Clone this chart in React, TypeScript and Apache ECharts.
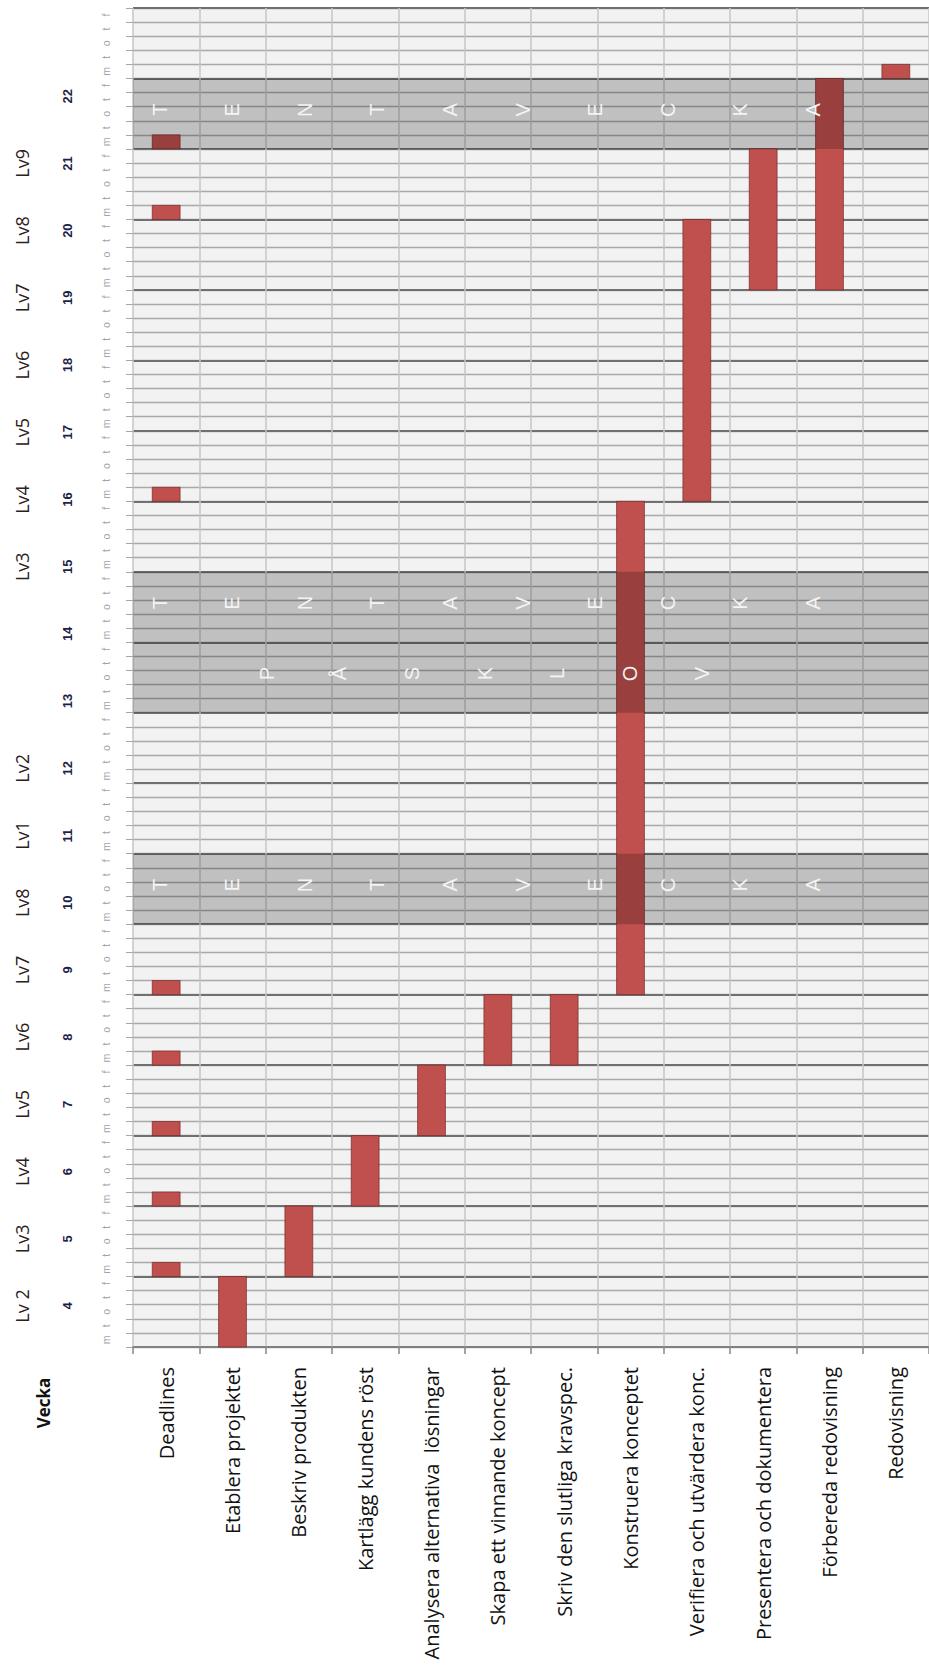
import React, { useEffect, useRef } from "react";
import * as echarts from "echarts";

// ---- data ----
const categories = [
  "Deadlines",
  "Etablera projektet",
  "Beskriv produkten",
  "Kartlägg kundens röst",
  "Analysera alternativa  lösningar",
  "Skapa ett vinnande koncept",
  "Skriv den slutliga kravspec.",
  "Konstruera konceptet",
  "Verifiera och utvärdera konc.",
  "Presentera och dokumentera",
  "Förbereda redovisning",
  "Redovisning",
];
// task spans in working days counted from Monday of week 4
const taskCategory = [1, 2, 3, 4, 5, 6, 7, 8, 9, 10, 11];
const taskStart = [0, 5, 10, 15, 20, 20, 25, 60, 75, 75, 90];
const taskEnd = [5, 10, 15, 20, 25, 25, 60, 80, 85, 90, 91];
const deadlineDays = [5, 10, 15, 20, 25, 60, 80, 85];

// shaded periods
const bandStart = [30, 45, 50, 85];
const bandEnd = [35, 50, 55, 90];
const bandText = ["TENTAVECKA", "PÅSKLOV", "TENTAVECKA", "TENTAVECKA"];
const bandFirstLetter = [0.0335, 0.168, 0.0335, 0.0335];
const letterStep = 0.0912;

const totalDays = 95;
const dayNames = ["m", "t", "o", "t", "f"];
const weekNumbers = ["4", "5", "6", "7", "8", "9", "10", "11", "12", "13", "14", "15", "16", "17", "18", "19", "20", "21", "22"];
const lvLabels = ["Lv 2", "Lv3", "Lv4", "Lv5", "Lv6", "Lv7", "Lv8", "Lv1", "Lv2", "", "", "Lv3", "Lv4", "Lv5", "Lv6", "Lv7", "Lv8", "Lv9", ""];

export default function App() {
  const ref = useRef<HTMLDivElement>(null);
  useEffect(() => {
    if (!ref.current) return;
    const chart = echarts.init(ref.current, null, { renderer: "svg" });
    const dayLabels = Array.from({ length: totalDays }, (_, i) => dayNames[i % 5]);

    const barData: number[][] = [];
    deadlineDays.forEach((d) => barData.push([0, d, d + 1]));
    taskCategory.forEach((c, i) => barData.push([c, taskStart[i], taskEnd[i]]));

    const bandData = bandStart.map((s, i) => [0, s, bandEnd[i], i]);

    const option: any = {
      animation: false,
      backgroundColor: "#ffffff",
      grid: [
        { left: 133, top: 8, width: 805, height: 1339, show: true, backgroundColor: "#F2F2F2", borderWidth: 0 },
        { left: 95, top: 62.6, width: 1, height: 1277, show: false },
      ],
      xAxis: [
        {
          gridIndex: 0,
          type: "category",
          data: categories,
          boundaryGap: true,
          axisLine: { show: true, lineStyle: { color: "#868686", width: 1.5 } },
          axisTick: { show: true, length: 7, interval: 0, lineStyle: { color: "#868686", width: 1.5 } },
          axisLabel: { interval: 0, rotate: 90, margin: 20, fontSize: 20, fontFamily: "Open Sans", color: "#111" },
          splitLine: { show: true, interval: 0, lineStyle: { color: "#C6C6C6", width: 1.5 } },
        },
        { gridIndex: 1, type: "value", show: false },
      ],
      yAxis: [
        {
          gridIndex: 0,
          type: "category",
          data: dayLabels,
          boundaryGap: true,
          position: "left",
          axisLine: { show: false },
          axisTick: { show: true, length: 7, interval: 0, lineStyle: { color: "#A6A6A6" } },
          axisLabel: { interval: 0, rotate: 90, margin: 22, fontSize: 10.5, fontFamily: "Liberation Sans", color: "#9CA3AD" },
          splitLine: { show: true, interval: 0, lineStyle: { color: "#A9A9A9", width: 1.3 } },
        },
        {
          gridIndex: 0,
          type: "value",
          min: 0,
          max: totalDays,
          interval: 5,
          position: "right",
          axisLine: { show: false },
          axisTick: { show: false },
          axisLabel: { show: false },
          splitLine: { show: true, lineStyle: { color: "#707070", width: 2 } },
        },
        {
          gridIndex: 1,
          type: "category",
          data: weekNumbers,
          position: "left",
          axisLine: { show: false },
          axisTick: { show: false },
          axisLabel: { interval: 0, rotate: 90, margin: 21, fontSize: 13, fontWeight: "bold", fontFamily: "Liberation Sans", color: "#1E1E46" },
          splitLine: { show: false },
        },
        {
          gridIndex: 1,
          type: "category",
          data: lvLabels,
          position: "left",
          axisLine: { show: false },
          axisTick: { show: false },
          axisLabel: { interval: 0, rotate: 90, margin: 64, fontSize: 18, fontFamily: "Open Sans", color: "#2a2020" },
          splitLine: { show: false },
        },
      ],
      graphic: [
        {
          type: "text",
          x: 43,
          y: 1403,
          rotation: Math.PI / 2,
          style: { text: "Vecka", fontSize: 17, fontWeight: "bold", fontFamily: "Open Sans", fill: "#111", align: "center", verticalAlign: "middle" },
        },
      ],
      series: [
        {
          type: "custom",
          xAxisIndex: 0,
          yAxisIndex: 1,
          z: 2,
          encode: { x: 0, y: [1, 2] },
          data: barData,
          renderItem: (params: any, api: any) => {
            const c = api.value(0);
            const s = api.value(1);
            const e = api.value(2);
            const p0 = api.coord([c, s]);
            const p1 = api.coord([c, e]);
            const w = api.size([1, 0])[0] * 0.42;
            return {
              type: "rect",
              shape: { x: p0[0] - w / 2, y: p1[1], width: w, height: p0[1] - p1[1] },
              style: { fill: "#C0504D", stroke: "rgba(110,35,35,0.65)", lineWidth: 1 },
            };
          },
        },
        {
          type: "custom",
          xAxisIndex: 0,
          yAxisIndex: 1,
          z: 3,
          encode: { x: 0, y: [1, 2] },
          data: bandData,
          renderItem: (params: any, api: any) => {
            const s = api.value(1);
            const e = api.value(2);
            const idx = api.value(3);
            const cs = params.coordSys;
            const top = api.coord([0, e])[1];
            const bottom = api.coord([0, s])[1];
            const letters = Array.from(bandText[idx]);
            const children: any[] = [
              {
                type: "rect",
                shape: { x: cs.x, y: top, width: cs.width, height: bottom - top },
                style: { fill: "rgba(0,0,0,0.205)" },
              },
            ];
            letters.forEach((ch, k) => {
              children.push({
                type: "text",
                x: cs.x + cs.width * (bandFirstLetter[idx] + k * letterStep),
                y: (top + bottom) / 2 - 4,
                rotation: Math.PI / 2,
                style: { text: ch, fill: "#F4F4F4", fontSize: 20, fontFamily: "Liberation Sans", align: "center", verticalAlign: "middle" },
              });
            });
            return { type: "group", children };
          },
        },
      ],
    };
    chart.setOption(option);
    return () => chart.dispose();
  }, []);
  return <div ref={ref} style={{ position: "absolute", left: 0, top: 0, width: 929, height: 1677 }} />;
}
